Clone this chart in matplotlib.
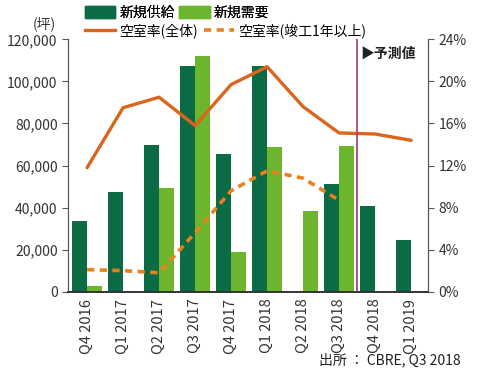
import matplotlib
matplotlib.use('Agg')
import matplotlib.pyplot as plt
import numpy as np
from matplotlib.patches import Patch
from matplotlib.lines import Line2D

plt.rcParams['font.family'] = ['Noto Sans CJK JP', 'DejaVu Sans']

quarters = ['Q4 2016', 'Q1 2017', 'Q2 2017', 'Q3 2017', 'Q4 2017',
            'Q1 2018', 'Q2 2018', 'Q3 2018', 'Q4 2018', 'Q1 2019']
supply = [33700, 47500, 70000, 107500, 65500, 107500, 0, 51300, 40800, 24600]
demand = [2900, 0, 49500, 112000, 18800, 68800, 38600, 69500, 0, 0]
vac_all = [11.8, 17.5, 18.5, 15.8, 19.7, 21.4, 17.6, 15.1, 15.0, 14.4]
vac_old = [2.1, 2.0, 1.8, 5.6, 9.6, 11.5, 10.8, 8.7]

dark_green = '#0b6b45'
light_green = '#6cb52d'
orange = '#d9661c'
orange2 = '#e8821e'
grey = '#555555'

fig = plt.figure(figsize=(5, 3.84), dpi=100)
ax = fig.add_axes([0.136, 0.2404, 0.72, 0.657])
ax2 = ax.twinx()

x = np.arange(len(quarters))
w = 0.42
ax.bar(x - w / 2, supply, w, color=dark_green)
ax.bar(x + w / 2, demand, w, color=light_green)

ax.set_xlim(-0.53, 9.47)
ax.set_ylim(0, 120000)
ax.set_yticks(np.arange(0, 120001, 20000))
ax.set_yticklabels([f'{v:,}' for v in range(0, 120001, 20000)])
ax.set_xticks(x)
ax.set_xticklabels(quarters, rotation=90)
ax.tick_params(axis='x', length=0, pad=5, labelsize=10.5, colors='#333333')
ax.tick_params(axis='y', length=4, labelsize=10, colors='#333333', color=grey)

ax2.plot(x, vac_all, color=orange, lw=2.4, solid_capstyle='round')
ax2.plot(x[:len(vac_old)], vac_old, color=orange2, lw=2.6, ls=(0, (2, 1.5)))
ax2.set_ylim(0, 24)
ax2.set_yticks(np.arange(0, 25, 4))
ax2.set_yticklabels([f'{v}%' for v in range(0, 25, 4)])
ax2.tick_params(axis='y', length=4, labelsize=10, colors='#333333', color=grey)

for a in (ax, ax2):
    a.spines['top'].set_visible(False)
    a.spines['left'].set_color(grey)
    a.spines['right'].set_color(grey)
    a.spines['bottom'].set_color('#333333')
    a.spines['bottom'].set_linewidth(1.2)

ax2.axvline(7.5, color='#a8447f', lw=1.3, ymin=0, ymax=1.0)
ax2.text(7.6, 22.6, '▶予測値', fontsize=10, va='center', ha='left', color='#222222',
         fontweight='bold')

fig.text(0.065, 0.937, '(坪)', fontsize=10, ha='left', va='center', color='#333333')

leg1 = fig.legend(handles=[Patch(color=dark_green), Patch(color=light_green)],
                  labels=['新規供給', '新規需要'], ncol=2, frameon=False,
                  loc='upper left', bbox_to_anchor=(0.15, 1.01),
                  handlelength=2.2, handleheight=1.0, handletextpad=0.3,
                  columnspacing=0.3, borderpad=0.2, fontsize=10)
leg2 = fig.legend(handles=[Line2D([], [], color=orange, lw=2.4),
                           Line2D([], [], color=orange2, lw=2.6, ls=(0, (2, 1.5)))],
                  labels=['空室率(全体)', '空室率(竣工1年以上)'], ncol=2, frameon=False,
                  loc='upper left', bbox_to_anchor=(0.15, 0.965),
                  handlelength=2.2, handletextpad=0.3,
                  columnspacing=0.4, borderpad=0.2, fontsize=10)
fig.add_artist(leg1)

fig.text(0.922, 0.062, '出所 ： CBRE, Q3 2018', fontsize=10, ha='right', va='center',
         color='#222222')

fig.savefig('out.png', dpi=100)
